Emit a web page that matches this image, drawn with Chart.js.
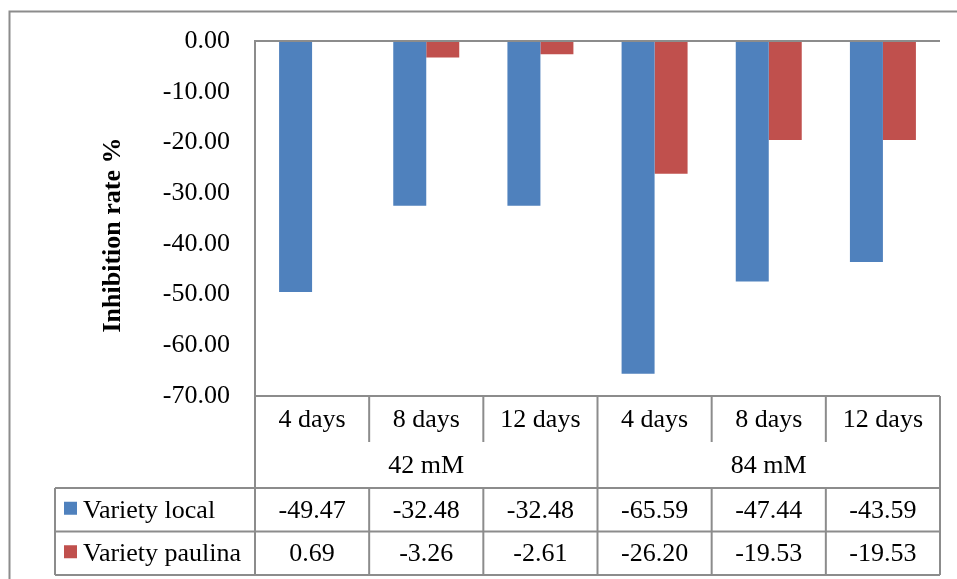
<!DOCTYPE html>
<html>
<head>
<meta charset="utf-8">
<script src="https://cdn.jsdelivr.net/npm/chart.js@4.4.1/dist/chart.umd.min.js"></script>
<style>
    html, body { margin: 0; padding: 0; background: #fff; }
    #wrap { width: 957px; height: 579px; }
</style>
</head>
<body>
<div id="wrap"><canvas id="chart" width="957" height="579"></canvas></div>
<script>
var categories = ['4 days', '8 days', '12 days', '4 days', '8 days', '12 days'];
var groups = ['42 mM', '84 mM'];
var seriesNames = ['Variety local', 'Variety paulina'];
var localValues = [-49.47, -32.48, -32.48, -65.59, -47.44, -43.59];
var paulinaValues = [0.69, -3.26, -2.61, -26.20, -19.53, -19.53];
var yMin = -70, yMax = 0, yStep = 10;
var yTitle = 'Inhibition rate %';

var colors = ['#4F81BD', '#C0504D'];
var lineColor = '#8c8c8c';
var font = "26px 'Liberation Serif', 'Times New Roman', serif";

// draws the data table under the plot, the axis title and the outer frame
var tablePlugin = {
    id: 'dataTable',
    afterDraw: function(chart) {
        var ctx = chart.ctx;
        var x = chart.scales.x;
        var area = chart.chartArea;
        var rows = [area.bottom, area.bottom + 46, area.bottom + 92, area.bottom + 135.5, area.bottom + 179];
        var legendLeft = 55;
        var n = categories.length;
        var bounds = [];
        for (var i = 0; i < n - 1; i++) {
            bounds.push((x.getPixelForValue(i) + x.getPixelForValue(i + 1)) / 2);
        }

        ctx.save();
        ctx.strokeStyle = lineColor;
        ctx.lineWidth = 2;
        function line(x1, y1, x2, y2) {
            ctx.beginPath();
            ctx.moveTo(x1, y1);
            ctx.lineTo(x2, y2);
            ctx.stroke();
        }
        // outer frame
        ctx.strokeRect(9.5, 11.5, 1000, 1000);

        line(area.left, rows[0], area.right, rows[0]);
        for (var r = 2; r < rows.length; r++) {
            line(legendLeft, rows[r], area.right, rows[r]);
        }
        line(area.left, rows[0], area.left, rows[4]);
        line(legendLeft, rows[2], legendLeft, rows[4]);
        line(area.right, rows[0], area.right, rows[4]);
        var perGroup = n / groups.length;
        for (var b = 0; b < bounds.length; b++) {
            if ((b + 1) % perGroup === 0) {
                line(bounds[b], rows[0], bounds[b], rows[4]);
            } else {
                line(bounds[b], rows[0], bounds[b], rows[1]);
                line(bounds[b], rows[2], bounds[b], rows[4]);
            }
        }

        ctx.fillStyle = '#000';
        ctx.font = font;
        ctx.textAlign = 'center';
        ctx.textBaseline = 'middle';
        for (var c = 0; c < n; c++) {
            var cx = x.getPixelForValue(c);
            ctx.fillText(categories[c], cx, (rows[0] + rows[1]) / 2 + 1);
            ctx.fillText(localValues[c].toFixed(2), cx, (rows[2] + rows[3]) / 2 + 1);
            ctx.fillText(paulinaValues[c].toFixed(2), cx, (rows[3] + rows[4]) / 2 + 1);
        }
        for (var g = 0; g < groups.length; g++) {
            var gx = (x.getPixelForValue(g * perGroup) + x.getPixelForValue((g + 1) * perGroup - 1)) / 2;
            ctx.fillText(groups[g], gx, (rows[1] + rows[2]) / 2 + 1);
        }

        // legend keys
        ctx.textAlign = 'left';
        for (var s = 0; s < seriesNames.length; s++) {
            var cy = (rows[2 + s] + rows[3 + s]) / 2;
            ctx.fillStyle = colors[s];
            ctx.fillRect(64, cy - 8, 13, 13);
            ctx.fillStyle = '#000';
            ctx.fillText(seriesNames[s], 83, cy + 1);
        }

        // y axis title
        ctx.translate(113, 235);
        ctx.rotate(-Math.PI / 2);
        ctx.textAlign = 'center';
        ctx.font = "bold 26px 'Liberation Serif', 'Times New Roman', serif";
        ctx.fillText(yTitle, 0, 0);
        ctx.restore();
    }
};

var chart = new Chart(document.getElementById('chart'), {
    type: 'bar',
    data: {
        labels: categories,
        datasets: [{
            label: seriesNames[0],
            data: localValues,
            backgroundColor: colors[0]
        }, {
            label: seriesNames[1],
            data: paulinaValues,
            backgroundColor: colors[1]
        }]
    },
    options: {
        responsive: false,
        animation: false,
        layout: { padding: { top: 41, right: 17, bottom: 183, left: 0 } },
        datasets: {
            bar: { categoryPercentage: 0.578, barPercentage: 1.0 }
        },
        plugins: {
            legend: { display: false },
            tooltip: { enabled: false }
        },
        scales: {
            x: { display: false },
            y: {
                min: yMin,
                max: yMax,
                z: 1,
                afterFit: function(scale) { scale.width = 255; },
                border: { display: true, color: lineColor, width: 2 },
                grid: {
                    drawTicks: false,
                    lineWidth: 2,
                    color: function(c) {
                        return (c.tick && (c.tick.value === yMax || c.tick.value === yMin)) ? lineColor : 'transparent';
                    }
                },
                ticks: {
                    stepSize: yStep,
                    padding: 25,
                    color: '#000',
                    font: { family: "'Liberation Serif', 'Times New Roman', serif", size: 26 },
                    callback: function(v) { return v.toFixed(2); }
                }
            }
        }
    },
    plugins: [tablePlugin]
});
</script>
</body>
</html>
